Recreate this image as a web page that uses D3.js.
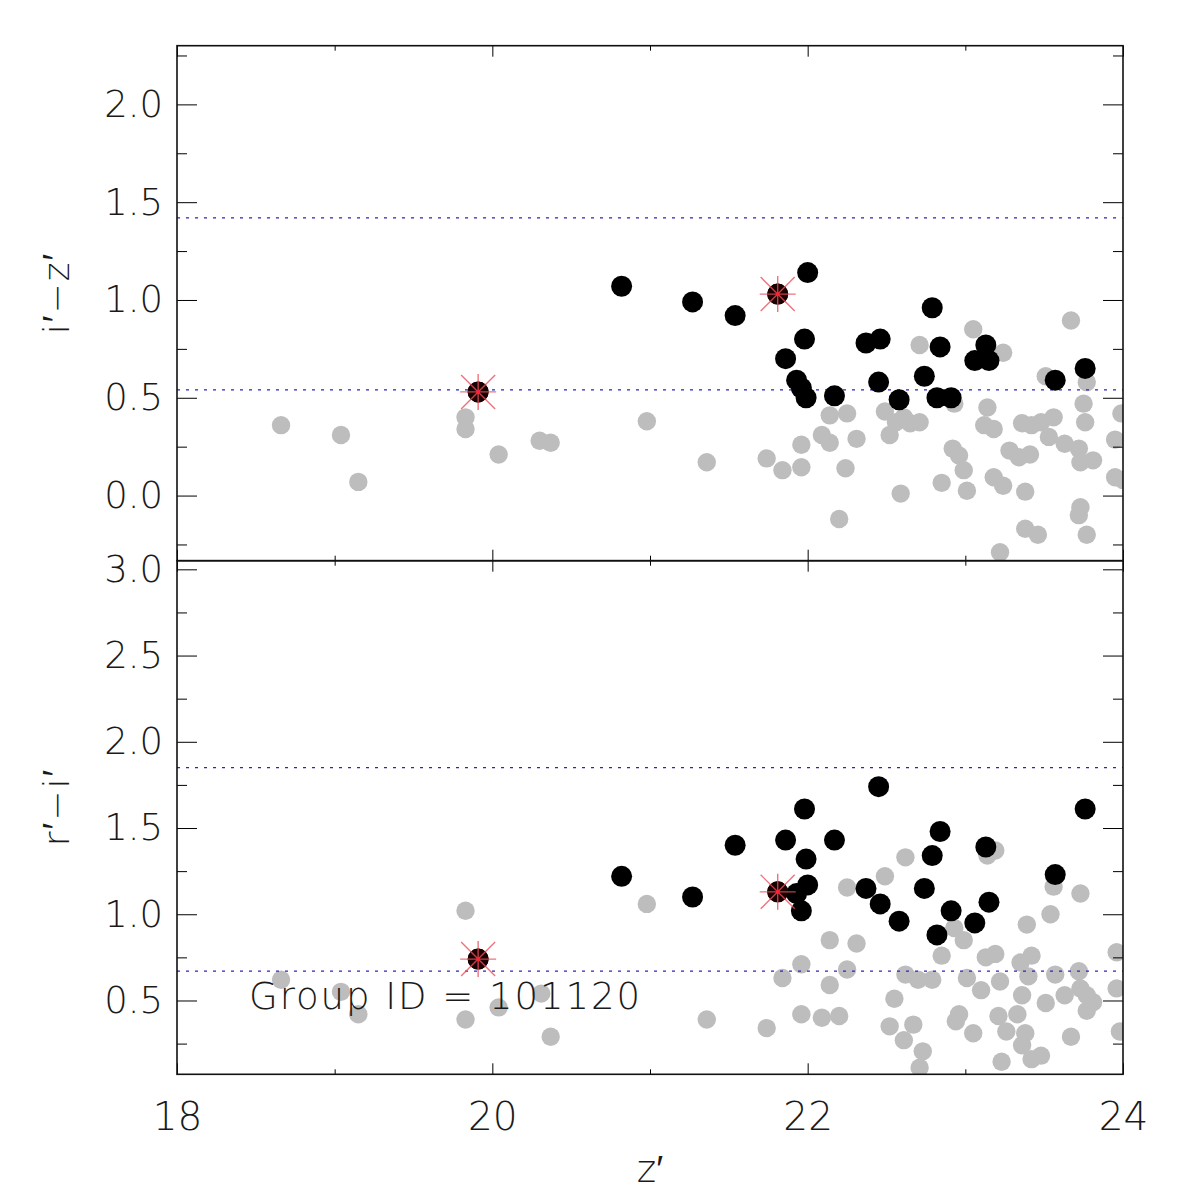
<!DOCTYPE html>
<html>
<head>
<meta charset="utf-8">
<script src="https://cdn.jsdelivr.net/npm/d3@7"></script>
<style>
  html, body { margin: 0; padding: 0; background: #fff; }
  svg text { font-family: "DejaVu Sans", sans-serif; font-weight: 200; fill: #1a1a1a; }
</style>
</head>
<body>
<div id="chart"></div>
<script>
// member galaxies (black), two of them flagged with a red asterisk
const memberZ  = [19.91, 20.82, 21.27, 21.54, 21.81, 21.86, 21.93, 21.96, 21.98, 21.99, 22.00, 22.17, 22.37,
                  22.45, 22.46, 22.58, 22.74, 22.79, 22.82, 22.84, 22.91, 23.06, 23.13, 23.15, 23.57, 23.76];
const memberIZ = [0.53, 1.07, 0.99, 0.92, 1.03, 0.70, 0.59, 0.55, 0.80, 0.50, 1.14, 0.51, 0.78,
                  0.58, 0.80, 0.49, 0.61, 0.96, 0.50, 0.76, 0.50, 0.69, 0.77, 0.69, 0.59, 0.65];
const memberRI = [0.74, 1.22, 1.10, 1.40, 1.13, 1.43, 1.12, 1.02, 1.61, 1.32, 1.17, 1.43, 1.15,
                  1.74, 1.06, 0.96, 1.15, 1.34, 0.88, 1.48, 1.02, 0.95, 1.39, 1.07, 1.23, 1.61];
const flagged = [0, 4];

// field objects (grey), top panel: [z', i'-z']
const fieldIZ = [
  [18.66, 0.36], [19.04, 0.31], [19.15, 0.07], [19.83, 0.40], [19.83, 0.34], [20.04, 0.21], [20.30, 0.28],
  [20.37, 0.27], [20.98, 0.38], [21.36, 0.17], [21.74, 0.19], [21.84, 0.13], [21.96, 0.26], [21.96, 0.145],
  [22.09, 0.31], [22.14, 0.27], [22.14, 0.41], [22.25, 0.42], [22.24, 0.14], [22.31, 0.29], [22.20, -0.12],
  [22.49, 0.43], [22.52, 0.31], [22.56, 0.375], [22.61, 0.40], [22.65, 0.37], [22.71, 0.375], [22.71, 0.77],
  [22.59, 0.01], [22.85, 0.065], [22.92, 0.24], [22.96, 0.205], [22.99, 0.13], [23.01, 0.025], [23.05, 0.85],
  [23.14, 0.45], [23.12, 0.36], [23.18, 0.34], [23.24, 0.73], [23.18, 0.094], [23.24, 0.05], [23.28, 0.23],
  [23.34, 0.196], [23.41, 0.21], [23.36, 0.37], [23.42, 0.36], [23.48, 0.375], [23.56, 0.40], [23.53, 0.30],
  [23.63, 0.265], [23.72, 0.24], [23.73, 0.17], [23.81, 0.18], [23.38, 0.02], [23.38, -0.17], [23.46, -0.20],
  [23.22, -0.29], [23.73, -0.06], [23.72, -0.10], [23.77, -0.20], [23.67, 0.895], [23.51, 0.61], [23.77, 0.58],
  [23.75, 0.47], [23.76, 0.375], [23.95, 0.286], [23.95, 0.094], [23.99, 0.42], [24.00, 0.08], [22.93, 0.47]
];

// field objects (grey), bottom panel: [z', r'-i']
const fieldRI = [
  [18.66, 0.62], [19.04, 0.55], [19.15, 0.42], [19.83, 1.02], [19.83, 0.39], [20.04, 0.46], [20.31, 0.54],
  [20.37, 0.29], [20.98, 1.06], [21.36, 0.39], [21.74, 0.34], [21.84, 0.63], [21.96, 0.71], [21.96, 0.42],
  [22.09, 0.40], [22.14, 0.59], [22.14, 0.85], [22.20, 0.41], [22.25, 1.155], [22.25, 0.68], [22.31, 0.83],
  [22.49, 1.22], [22.55, 0.51], [22.52, 0.35], [22.61, 0.27], [22.62, 1.33], [22.62, 0.65], [22.67, 0.36],
  [22.70, 0.62], [22.73, 0.205], [22.71, 0.11], [22.79, 0.62], [22.85, 0.76], [22.93, 0.92], [22.99, 0.85],
  [22.94, 0.38], [22.96, 0.42], [23.01, 0.63], [23.05, 0.31], [23.10, 0.56], [23.14, 1.34], [23.19, 1.37],
  [23.13, 0.75], [23.19, 0.77], [23.22, 0.61], [23.21, 0.41], [23.26, 0.32], [23.23, 0.145], [23.33, 0.42],
  [23.36, 0.53], [23.35, 0.72], [23.39, 0.94], [23.42, 0.76], [23.40, 0.64], [23.38, 0.31], [23.36, 0.24],
  [23.42, 0.16], [23.48, 0.18], [23.51, 0.485], [23.54, 1.00], [23.57, 0.65], [23.56, 1.16], [23.63, 0.53],
  [23.67, 0.29], [23.72, 0.67], [23.73, 1.12], [23.73, 0.57], [23.77, 0.44], [23.81, 0.49], [23.77, 0.53],
  [23.96, 0.78], [23.96, 0.57], [23.98, 0.32]
];

// colour cuts (dotted lines)
const cutsIZ = [0.54, 1.42];
const cutsRI = [0.67, 1.85];

const ticksX = [18, 20, 22, 24];
const minorX = [19, 21, 23];
const ticksIZ = [0.0, 0.5, 1.0, 1.5, 2.0];
const minorIZ = [-0.25, 0.25, 0.75, 1.25, 1.75, 2.25];
const ticksRI = [0.5, 1.0, 1.5, 2.0, 2.5, 3.0];
const minorRI = [0.25, 0.75, 1.25, 1.75, 2.25, 2.75];

const groupLabel = "Group ID = 101120";

const W = 1180, H = 1197;
const L = 177, R = 1123;
const topPanel = {y0: 45.7, y1: 560.7};
const botPanel = {y0: 560.7, y1: 1074.3};

const svg = d3.select('#chart').append('svg')
  .attr('width', W).attr('height', H);

const x = d3.scaleLinear().domain([18, 24]).range([L, R]);
const yTop = d3.scaleLinear().domain([-0.333, 2.3]).range([topPanel.y1, topPanel.y0]);
const yBot = d3.scaleLinear().domain([0.072, 3.05]).range([botPanel.y1, botPanel.y0]);

function panel(id, p, y, field, memberY, cuts, ticks, minor, title, titleY) {
  const defs = svg.append('defs');
  defs.append('clipPath').attr('id', 'clip-' + id)
    .append('rect')
      .attr('x', L).attr('y', p.y0)
      .attr('width', R - L).attr('height', p.y1 - p.y0);

  const g = svg.append('g').attr('clip-path', 'url(#clip-' + id + ')');

  g.selectAll('circle.field')
    .data(field)
    .join('circle')
      .attr('class', 'field')
      .attr('cx', d => x(d[0]))
      .attr('cy', d => y(d[1]))
      .attr('r', 9.2)
      .attr('fill', '#bdbdbd');

  g.selectAll('line.cut')
    .data(cuts)
    .join('line')
      .attr('class', 'cut')
      .attr('x1', L).attr('x2', R)
      .attr('y1', d => y(d)).attr('y2', d => y(d))
      .attr('stroke', '#2626c0')
      .attr('stroke-width', 1.3)
      .attr('stroke-dasharray', '3,6');

  g.selectAll('circle.member')
    .data(memberZ.map((z, i) => [z, memberY[i]]))
    .join('circle')
      .attr('class', 'member')
      .attr('cx', d => x(d[0]))
      .attr('cy', d => y(d[1]))
      .attr('r', 10.5)
      .attr('fill', '#000');

  // asterisk on the flagged members
  const star = g.selectAll('g.star')
    .data(flagged.map(i => [memberZ[i], memberY[i]]))
    .join('g')
      .attr('class', 'star')
      .attr('transform', d => `translate(${x(d[0])},${y(d[1])})`);
  star.append('circle').attr('r', 10.5).attr('fill', '#1c0000');
  const arms = [[-18, 0, 18, 0], [0, -18, 0, 18], [-17, -17, 17, 17], [-17, 17, 17, -17]];
  arms.forEach(a => {
    star.append('line')
      .attr('x1', a[0]).attr('y1', a[1]).attr('x2', a[2]).attr('y2', a[3])
      .attr('stroke', '#e8505e')
      .attr('stroke-opacity', 0.8)
      .attr('stroke-width', 1.4);
  });
  star.append('circle').attr('r', 2).attr('fill', '#ff2030');

  // axes, ticks pointing inward
  svg.append('g')
    .attr('transform', `translate(${L},0)`)
    .call(d3.axisLeft(y).tickValues(ticks).tickSizeInner(-20).tickSizeOuter(0)
      .tickPadding(14).tickFormat(d3.format('.1f')))
    .call(a => a.select('.domain').remove())
    .call(a => a.selectAll('text').attr('font-size', 37).attr('fill', '#1a1a1a'));
  svg.append('g')
    .attr('transform', `translate(${L},0)`)
    .call(d3.axisLeft(y).tickValues(minor).tickSizeInner(-10).tickSizeOuter(0).tickFormat(''))
    .call(a => a.select('.domain').remove());
  svg.append('g')
    .attr('transform', `translate(${R},0)`)
    .call(d3.axisRight(y).tickValues(ticks).tickSizeInner(-20).tickSizeOuter(0).tickFormat(''))
    .call(a => a.select('.domain').remove());
  svg.append('g')
    .attr('transform', `translate(${R},0)`)
    .call(d3.axisRight(y).tickValues(minor).tickSizeInner(-10).tickSizeOuter(0).tickFormat(''))
    .call(a => a.select('.domain').remove());

  // x ticks on both edges of the panel
  [[p.y1, d3.axisBottom], [p.y0, d3.axisTop]].forEach(([yy, ax]) => {
    svg.append('g')
      .attr('transform', `translate(0,${yy})`)
      .call(ax(x).tickValues(ticksX).tickSizeInner(-11).tickSizeOuter(0).tickFormat(''))
      .call(a => a.select('.domain').remove());
    svg.append('g')
      .attr('transform', `translate(0,${yy})`)
      .call(ax(x).tickValues(minorX).tickSizeInner(-5).tickSizeOuter(0).tickFormat(''))
      .call(a => a.select('.domain').remove());
  });

  svg.append('rect')
    .attr('x', L).attr('y', p.y0)
    .attr('width', R - L).attr('height', p.y1 - p.y0)
    .attr('fill', 'none')
    .attr('stroke', '#111')
    .attr('stroke-width', 1.6);

  svg.append('text')
    .attr('transform', `translate(69,${titleY}) rotate(-90)`)
    .attr('text-anchor', 'middle')
    .attr('font-size', 36)
    .attr('letter-spacing', 2)
    .text(title);
}

panel('top', topPanel, yTop, fieldIZ, memberIZ, cutsIZ, ticksIZ, minorIZ, 'i\u2032\u2212z\u2032', 293);
panel('bot', botPanel, yBot, fieldRI, memberRI, cutsRI, ticksRI, minorRI, 'r\u2032\u2212i\u2032', 807);

// bottom x labels
svg.append('g')
  .attr('transform', `translate(0,${botPanel.y1})`)
  .call(d3.axisBottom(x).tickValues(ticksX).tickSize(0).tickPadding(28).tickFormat(d3.format('d')))
  .call(a => a.select('.domain').remove())
  .call(a => a.selectAll('text').attr('font-size', 39).attr('fill', '#1a1a1a'));

svg.append('text')
  .attr('x', 650).attr('y', 1182)
  .attr('text-anchor', 'middle')
  .attr('font-size', 37)
  .text('z\u2032');

svg.append('text')
  .attr('x', 249).attr('y', 1009)
  .attr('font-size', 37)
  .attr('textLength', 391)
  .attr('lengthAdjust', 'spacing')
  .text(groupLabel);
</script>
</body>
</html>
